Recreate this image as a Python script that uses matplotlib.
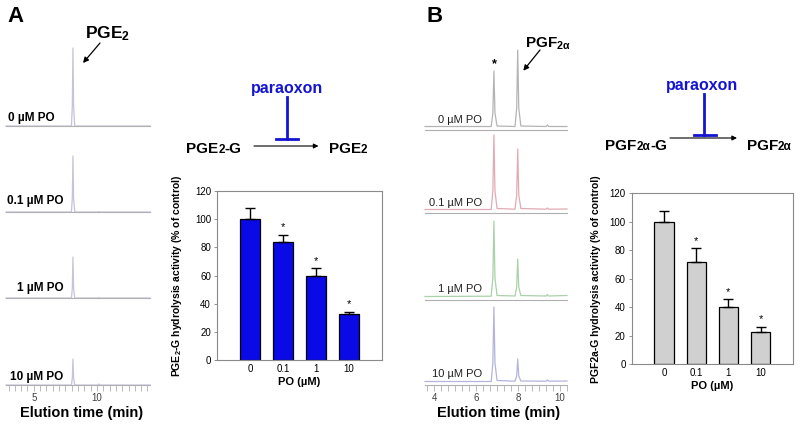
import matplotlib
matplotlib.use('Agg')
import matplotlib.pyplot as plt
from matplotlib.ticker import MultipleLocator, FixedLocator
import numpy as np

plt.rcParams['font.family'] = ['Liberation Sans', 'DejaVu Sans']
plt.rcParams['mathtext.fontset'] = 'custom'
plt.rcParams['mathtext.rm'] = 'Liberation Sans'
plt.rcParams['mathtext.it'] = 'Liberation Sans:italic'
plt.rcParams['mathtext.bf'] = 'Liberation Sans:bold'

# ---------------- data ----------------
po_labels = ['0', '0.1', '1', '10']
pge2g_activity = [100, 84, 60, 33]
pge2g_err = [7.5, 5, 5.5, 1.5]
pgf2ag_activity = [100, 71.5, 40.5, 22.5]
pgf2ag_err = [7.5, 10, 5, 4]
significant = [False, True, True, True]

trace_labels = ['0 µM PO', '0.1 µM PO', '1 µM PO', '10 µM PO']

# panel A chromatograms (elution time, min ; signal, arbitrary units)
pge2_time = [2.8, 7.98, 8.05, 8.1, 8.15, 8.24, 10.1, 10.16, 10.22, 14.2]
pge2_signal = [
    [0, 0, 20, 78, 20, 0, 0, 0, 0, 0],
    [0, 0, 14, 56, 14, 0, 0, 0.5, 0, 0],
    [0, 0, 10, 41, 10, 0, 0, 0.5, 0, 0],
    [0, 0, 7, 26, 7, 0, 0, 1, 0, 0],
]

# panel B chromatograms
pgf2a_time = [3.55, 6.72, 6.8, 6.85, 6.9, 7.0, 7.86, 7.94, 7.99, 8.04, 8.14,
              9.35, 9.41, 9.47, 10.35]
pgf2a_signal = [
    [0.5, 0.5, 14, 56, 14, 1, 0.5, 19, 77, 19, 1, 0.5, 2, 0.5, 0.5],
    [0.5, 0.5, 19, 75, 19, 1.5, 0.8, 15, 61, 15, 1.5, 0.8, 2, 0.8, 1],
    [0.5, 0.8, 19, 76, 19, 1.5, 1, 10, 38, 10, 1.5, 1, 2.5, 1, 1.5],
    [0.5, 0.5, 19, 75, 19, 1.5, 0.8, 6, 23, 6, 1, 0.8, 2, 0.8, 1],
]
pgf2a_colors = ['#b4b4b4', '#e2aab4', '#a8d2a8', '#b4b4dc']

# ---------------- figure ----------------
W, H = 800, 432
fig = plt.figure(figsize=(W / 100, H / 100), dpi=100)


def px_axes(x0, y0, x1, y1):
    return fig.add_axes([x0 / W, 1 - y1 / H, (x1 - x0) / W, (y1 - y0) / H])


AXC = '#b0b0b0'

# ---- panel A chromatograms ----
a_bottoms = [126, 212, 298, 385]
for i, yb in enumerate(a_bottoms):
    ax = px_axes(6, yb - 80, 150, yb)
    ax.plot(pge2_time, pge2_signal[i], color='#c4c4dc', lw=0.9, clip_on=False)
    ax.set_xlim(2.8, 14.2)
    ax.set_ylim(0, 80)
    for s in ['top', 'right', 'left']:
        ax.spines[s].set_visible(False)
    ax.spines['bottom'].set_color(AXC)
    ax.spines['bottom'].set_linewidth(0.8)
    ax.set_yticks([])
    ax.patch.set_alpha(0)
    if i == 3:
        ax.xaxis.set_major_locator(FixedLocator([5, 10]))
        ax.xaxis.set_minor_locator(MultipleLocator(0.5))
        ax.tick_params(axis='x', which='both', length=4, width=0.6, color=AXC,
                       labelsize=7, labelcolor='#404040', pad=2)
    else:
        ax.set_xticks([])

# ---- panel B chromatograms ----
b_bottoms = [130, 213, 300, 385]
for i, yb in enumerate(b_bottoms):
    ax = px_axes(425, yb - 82, 567, yb)
    ax.plot(pgf2a_time, pgf2a_signal[i], color=pgf2a_colors[i], lw=0.9, clip_on=False)
    ax.set_xlim(3.55, 10.35)
    ax.set_ylim(-3, 79)
    for s in ['top', 'right', 'left']:
        ax.spines[s].set_visible(False)
    ax.spines['bottom'].set_color(AXC)
    ax.spines['bottom'].set_linewidth(0.8)
    ax.set_yticks([])
    ax.patch.set_alpha(0)
    if i == 3:
        ax.xaxis.set_major_locator(FixedLocator([4, 6, 8, 10]))
        ax.xaxis.set_minor_locator(MultipleLocator(1 / 3))
        ax.tick_params(axis='x', which='both', length=4, width=0.6, color=AXC,
                       labelsize=7, labelcolor='#404040', pad=2)
    else:
        ax.set_xticks([])


# ---- bar charts ----
def bar_panel(box, values, errs, color, ylabel, ylabel_x):
    ax = px_axes(*box)
    x = np.arange(len(po_labels))
    ax.bar(x, values, width=0.6, color=color, edgecolor='black', linewidth=0.9, zorder=2)
    ax.errorbar(x, values, yerr=[np.zeros(len(errs)), errs], fmt='none',
                ecolor='black', elinewidth=1, capsize=3.5, capthick=1, zorder=3)
    for xi, v, e, sig in zip(x, values, errs, significant):
        if sig:
            ax.text(xi, v + e + 1.5, '*', ha='center', va='bottom', fontsize=8)
    ax.set_xlim(-1, 4)
    ax.set_ylim(0, 120)
    ax.set_yticks(range(0, 121, 20))
    ax.set_xticks(x)
    ax.set_xticklabels(po_labels)
    ax.tick_params(axis='x', length=0, labelsize=7, pad=3)
    ax.tick_params(axis='y', length=2.5, width=0.6, color='#808080', labelsize=7, pad=2)
    for s in ax.spines.values():
        s.set_color('#8a8a8a')
        s.set_linewidth(0.8)
    ax.set_xlabel('PO (µM)', fontsize=8, fontweight='bold', labelpad=2)
    cy = (box[1] + box[3]) / 2
    fig.text(ylabel_x / W, 1 - cy / H, ylabel, rotation=90, ha='center', va='center',
             fontsize=7.5, fontweight='bold')
    return ax


bar_panel((217.3, 190.7, 381.7, 360.3), pge2g_activity, pge2g_err, '#0a0ae6',
          r'PGE$_\mathbf{2}$-G hydrolysis activity (% of control)', 177)
bar_panel((632, 193.3, 792.7, 364.3), pgf2ag_activity, pgf2ag_err, '#d0d0d0',
          'PGF2a-G hydrolysis activity (% of control)', 596)

# ---- overlay for annotations ----
ov = fig.add_axes([0, 0, 1, 1])
ov.set_xlim(0, W)
ov.set_ylim(H, 0)
ov.axis('off')
ov.patch.set_alpha(0)

ov.text(7, 22, 'A', fontsize=16, fontweight='bold', va='baseline')
ov.text(426, 22, 'B', fontsize=16, fontweight='bold', va='baseline')

# trace labels
a_lab_x = [8, 7, 17, 10]
a_lab_y = [121.5, 204, 291.5, 380]
for lx, ly, t in zip(a_lab_x, a_lab_y, trace_labels):
    ov.text(lx, ly, t, fontsize=8.5, fontweight='bold', va='baseline', ha='left')
b_lab_y = [123, 205.5, 291.5, 377]
for ly, t in zip(b_lab_y, trace_labels):
    ov.text(482, ly, t, fontsize=8, va='baseline', ha='right', color='#202020')

# x-axis titles of chromatograms
ov.text(82, 413, 'Elution time (min)', fontsize=10.5, fontweight='bold', ha='center', va='center')
ov.text(499, 413, 'Elution time (min)', fontsize=10.5, fontweight='bold', ha='center', va='center')

# peak labels
ov.text(85, 38, r'PGE$_\mathbf{2}$', fontsize=12.5, fontweight='bold', va='baseline')
ov.annotate('', xy=(83, 63), xytext=(100, 43),
            arrowprops=dict(arrowstyle='-|>', color='black', lw=0.9, mutation_scale=8,
                            shrinkA=0, shrinkB=0))
ov.text(525, 48, r'PGF$_{\mathbf{2α}}$', fontsize=11, fontweight='bold', va='baseline')
ov.annotate('', xy=(523.3, 70.7), xytext=(540, 50),
            arrowprops=dict(arrowstyle='-|>', color='black', lw=0.9, mutation_scale=8,
                            shrinkA=0, shrinkB=0))
ov.text(494.5, 64, '*', fontsize=9, fontweight='bold', ha='center', va='center')

renderer = fig.canvas.get_renderer()


def seq_text(xc, yb, pieces, **kw):
    texts, widths = [], []
    for s, size in pieces:
        t = ov.text(0, yb, s, fontsize=size, va='baseline', ha='left', **kw)
        widths.append(t.get_window_extent(renderer).width)
        texts.append(t)
    x = xc - sum(widths) / 2
    for t, w in zip(texts, widths):
        t.set_x(x)
        x += w


BLUE = '#1414d2'
# scheme A
ov.text(287, 93.5, 'paraoxon', fontsize=11.5, fontweight='bold', color=BLUE,
        ha='center', va='baseline')
ov.plot([286.7, 286.7], [97, 139.3], color=BLUE, lw=2)
ov.plot([276, 297.7], [139.3, 139.3], color=BLUE, lw=2)
ov.annotate('', xy=(318.5, 146), xytext=(254, 146),
            arrowprops=dict(arrowstyle='-|>', color='black', lw=0.8, mutation_scale=7,
                            shrinkA=0, shrinkB=0))
seq_text(214, 153, [('PGE', 11), ('2', 8.5), ('-G', 11)], fontweight='bold')
seq_text(348, 153, [('PGE', 11), ('2', 8.5)], fontweight='bold')

# scheme B
ov.text(702, 90, 'paraoxon', fontsize=11.5, fontweight='bold', color=BLUE,
        ha='center', va='baseline')
ov.plot([704.3, 704.3], [93.5, 134.5], color=BLUE, lw=2)
ov.plot([694, 716], [134.5, 134.5], color=BLUE, lw=2)
ov.annotate('', xy=(737, 138), xytext=(670, 138),
            arrowprops=dict(arrowstyle='-|>', color='black', lw=0.8, mutation_scale=7,
                            shrinkA=0, shrinkB=0))
seq_text(636, 150, [('PGF', 11), ('2α', 8.5), ('-G', 11)], fontweight='bold')
seq_text(769, 150, [('PGF', 11), ('2α', 8.5)], fontweight='bold')

fig.savefig('out.png', dpi=100)
